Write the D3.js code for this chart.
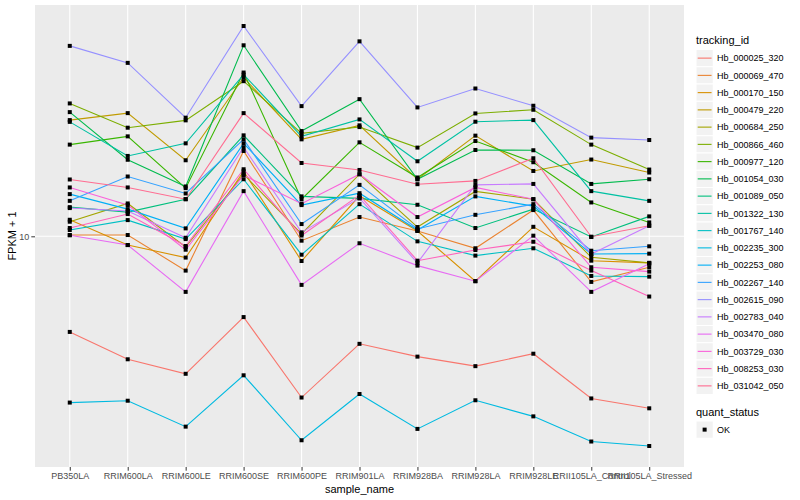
<!DOCTYPE html>
<html>
<head>
<meta charset="utf-8">
<script src="https://cdn.jsdelivr.net/npm/d3@7"></script>
<style>
  body { margin: 0; background: #fff; }
  svg { font-family: "Liberation Sans", Arial, sans-serif; }
</style>
</head>
<body>
<svg width="800" height="500"></svg>
<script>
// samples on the x axis
const samples = ['PB350LA', 'RRIM600LA', 'RRIM600LE', 'RRIM600SE', 'RRIM600PE', 'RRIM901LA',
  'RRIM928BA', 'RRIM928LA', 'RRIM928LE', 'RRII105LA_Control', 'RRII105LA_Stressed']

const trackingIds = ['Hb_000025_320', 'Hb_000069_470', 'Hb_000170_150', 'Hb_000479_220', 'Hb_000684_250',
  'Hb_000866_460', 'Hb_000977_120', 'Hb_001054_030', 'Hb_001089_050', 'Hb_001322_130',
  'Hb_001767_140', 'Hb_002235_300', 'Hb_002253_080', 'Hb_002267_140', 'Hb_002615_090',
  'Hb_002783_040', 'Hb_003470_080', 'Hb_003729_030', 'Hb_008253_030', 'Hb_031042_050']

// FPKM + 1, one array per gene, same order as samples
const hb000025_320 = [4.79, 3.88, 3.47, 5.37, 2.89, 4.37, 3.96, 3.68, 4.05, 2.87, 2.66]
const hb000069_470 = [10.10, 10.10, 7.68, 19.29, 9.67, 11.60, 10.42, 9.12, 12.24, 7.04, 7.88]
const hb000170_150 = [11.36, 9.35, 8.49, 16.51, 8.27, 13.66, 10.42, 7.08, 10.76, 8.29, 8.15]
const hb000479_220 = [24.47, 25.82, 17.96, 33.96, 21.10, 23.50, 15.52, 21.71, 16.54, 18.06, 16.34]
const hb000684_250 = [11.19, 12.88, 9.21, 16.13, 10.18, 16.13, 10.74, 14.13, 13.31, 8.51, 8.15]
const hb000866_460 = [27.82, 23.08, 24.42, 33.02, 22.10, 23.19, 19.80, 25.76, 26.50, 20.26, 16.72]
const hb000977_120 = [20.26, 21.59, 14.49, 35.29, 13.31, 20.62, 15.73, 20.83, 17.69, 12.98, 11.13]
const hb001054_030 = [26.02, 18.03, 14.68, 43.53, 22.49, 28.75, 15.52, 19.44, 19.40, 14.97, 15.52]
const hb001089_050 = [12.52, 12.05, 13.31, 21.76, 13.60, 13.39, 12.75, 10.66, 12.33, 9.95, 11.66]
const hb001322_130 = [24.14, 18.57, 20.46, 34.75, 21.59, 24.60, 17.82, 24.17, 24.47, 14.16, 13.14]
const hb001767_140 = [10.50, 11.33, 9.79, 15.52, 8.68, 12.81, 9.62, 8.62, 9.12, 7.37, 7.33]
const hb002235_300 = [2.78, 2.82, 2.31, 3.43, 2.08, 2.97, 2.27, 2.83, 2.50, 2.06, 1.99]
const hb002253_080 = [13.84, 12.33, 10.63, 20.46, 12.72, 13.94, 10.50, 13.60, 12.62, 8.73, 8.75]
const hb002267_140 = [13.14, 15.85, 13.91, 21.10, 10.99, 14.86, 10.58, 11.80, 12.81, 8.95, 9.26]
const hb002615_090 = [43.33, 38.02, 24.93, 50.50, 27.25, 44.87, 26.98, 31.21, 27.33, 21.38, 20.99]
const hb002783_040 = [12.43, 12.15, 9.89, 19.85, 10.31, 13.42, 8.15, 14.86, 14.97, 8.73, 10.85]
const hb003470_080 = [10.08, 9.35, 6.52, 14.16, 6.88, 9.48, 7.98, 7.08, 10.05, 6.52, 8.09]
const hb003729_030 = [14.57, 12.72, 9.02, 16.01, 12.86, 16.13, 11.60, 14.57, 13.31, 7.88, 7.62]
const hb008253_030 = [10.66, 11.87, 9.28, 16.76, 10.06, 13.73, 8.29, 9.00, 9.59, 7.68, 6.29]
const hb031042_050 = [15.49, 14.57, 13.31, 25.82, 17.59, 16.67, 14.94, 15.32, 18.24, 9.97, 10.85]

const seriesValues = [hb000025_320, hb000069_470, hb000170_150, hb000479_220, hb000684_250,
  hb000866_460, hb000977_120, hb001054_030, hb001089_050, hb001322_130,
  hb001767_140, hb002235_300, hb002253_080, hb002267_140, hb002615_090,
  hb002783_040, hb003470_080, hb003729_030, hb008253_030, hb031042_050]

const yTicks = [10]
const quantStatus = ['OK']

// ggplot default hue palette for 20 levels
const palette = ['#F8766D', '#EA8331', '#D89000', '#C09B00', '#A3A500', '#7CAE00', '#39B600', '#00BB4E',
  '#00BF7D', '#00C1A3', '#00BFC4', '#00BAE0', '#00B0F6', '#35A2FF', '#9590FF', '#C77CFF',
  '#E76BF3', '#FA62DB', '#FF62BC', '#FF6C91']

const svg = d3.select('svg')
const panel = {left: 35, right: 684, top: 5, bottom: 467}

const xScale = d3.scalePoint()
  .domain(samples)
  .range([panel.left, panel.right])
  .padding(0.6)

const allVals = seriesValues.flat()
const lo = Math.log10(d3.min(allVals))
const hi = Math.log10(d3.max(allVals))
const pad = (hi - lo) * 0.05
const yScale = d3.scaleLog()
  .domain([Math.pow(10, lo - pad), Math.pow(10, hi + pad)])
  .range([panel.bottom, panel.top])

const color = d3.scaleOrdinal().domain(trackingIds).range(palette)

// panel + grid
svg.append('rect')
  .attr('x', panel.left).attr('y', panel.top)
  .attr('width', panel.right - panel.left).attr('height', panel.bottom - panel.top)
  .attr('fill', '#EBEBEB')

svg.append('g')
  .selectAll('line')
  .data(samples)
  .enter()
  .append('line')
  .attr('x1', d => xScale(d)).attr('x2', d => xScale(d))
  .attr('y1', panel.top).attr('y2', panel.bottom)
  .attr('stroke', '#fff').attr('stroke-width', 1.1)

svg.append('g')
  .selectAll('line')
  .data(yTicks)
  .enter()
  .append('line')
  .attr('x1', panel.left).attr('x2', panel.right)
  .attr('y1', d => yScale(d)).attr('y2', d => yScale(d))
  .attr('stroke', '#fff').attr('stroke-width', 1.1)

// lines
const line = d3.line()
  .x((d, i) => xScale(samples[i]))
  .y(d => yScale(d))

const series = trackingIds.map((id, k) => ({id: id, values: seriesValues[k]}))

svg.append('g')
  .selectAll('path')
  .data(series)
  .enter()
  .append('path')
  .attr('d', s => line(s.values))
  .attr('fill', 'none')
  .attr('stroke', s => color(s.id))
  .attr('stroke-width', 1.1)

// points
const pts = []
series.forEach(s => s.values.forEach((v, i) => pts.push({sample: samples[i], value: v})))
svg.append('g')
  .selectAll('rect')
  .data(pts)
  .enter()
  .append('rect')
  .attr('x', d => xScale(d.sample) - 2)
  .attr('y', d => yScale(d.value) - 2)
  .attr('width', 4).attr('height', 4)
  .attr('fill', '#000')

// axes
const xAxis = svg.append('g')
  .attr('transform', `translate(0, ${panel.bottom})`)
  .call(d3.axisBottom(xScale).tickSize(3.7).tickPadding(2))
xAxis.select('.domain').remove()
xAxis.selectAll('line').attr('stroke', '#333')
xAxis.selectAll('text').attr('fill', '#4D4D4D').attr('font-size', 9)
  .attr('font-family', '"Liberation Sans", Arial, sans-serif')

const yAxis = svg.append('g')
  .attr('transform', `translate(${panel.left}, 0)`)
  .call(d3.axisLeft(yScale).tickValues(yTicks).tickFormat(d3.format('d')).tickSize(3.7).tickPadding(2))
yAxis.select('.domain').remove()
yAxis.selectAll('line').attr('stroke', '#333')
yAxis.selectAll('text').attr('fill', '#4D4D4D').attr('font-size', 9)
  .attr('font-family', '"Liberation Sans", Arial, sans-serif')

svg.append('text')
  .attr('x', (panel.left + panel.right) / 2)
  .attr('y', 493)
  .attr('text-anchor', 'middle')
  .attr('font-size', 11)
  .text('sample_name')

svg.append('text')
  .attr('transform', `translate(16, ${(panel.top + panel.bottom) / 2}) rotate(-90)`)
  .attr('text-anchor', 'middle')
  .attr('font-size', 11)
  .text('FPKM + 1')

// legend
const legX = 696
const keySize = 17.25
const legTop = 49.5

svg.append('text')
  .attr('x', legX).attr('y', 44)
  .attr('font-size', 11)
  .text('tracking_id')

const keys = svg.append('g')
  .selectAll('g')
  .data(trackingIds)
  .enter()
  .append('g')
  .attr('transform', (d, i) => `translate(${legX}, ${legTop + i * keySize})`)

keys.append('rect')
  .attr('width', keySize).attr('height', keySize)
  .attr('fill', '#F2F2F2').attr('stroke', '#fff')
keys.append('line')
  .attr('x1', 1.7).attr('x2', keySize - 1.7)
  .attr('y1', keySize / 2).attr('y2', keySize / 2)
  .attr('stroke', d => color(d)).attr('stroke-width', 1.1)
keys.append('text')
  .attr('x', 21).attr('y', keySize / 2 + 3.2)
  .attr('font-size', 9)
  .text(d => d)

svg.append('text')
  .attr('x', legX).attr('y', 416)
  .attr('font-size', 11)
  .text('quant_status')

const qKeys = svg.append('g')
  .selectAll('g')
  .data(quantStatus)
  .enter()
  .append('g')
  .attr('transform', (d, i) => `translate(${legX}, ${421 + i * keySize})`)
qKeys.append('rect')
  .attr('width', keySize).attr('height', keySize)
  .attr('fill', '#F2F2F2').attr('stroke', '#fff')
qKeys.append('rect')
  .attr('x', keySize / 2 - 2).attr('y', keySize / 2 - 2)
  .attr('width', 4).attr('height', 4)
  .attr('fill', '#000')
qKeys.append('text')
  .attr('x', 21).attr('y', keySize / 2 + 3.2)
  .attr('font-size', 9)
  .text(d => d)
</script>
</body>
</html>
